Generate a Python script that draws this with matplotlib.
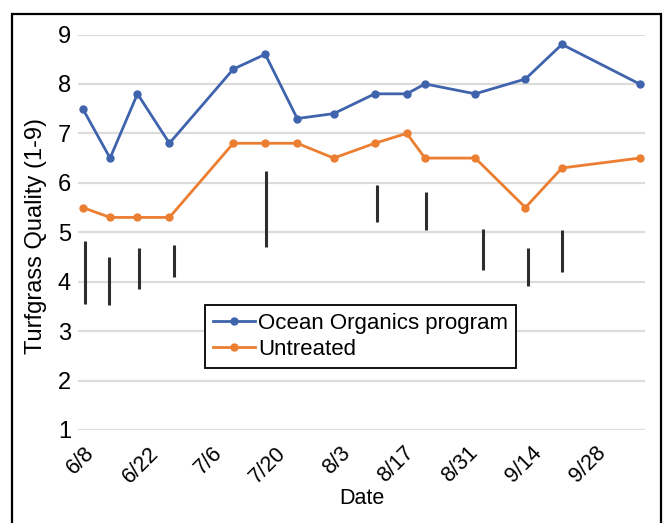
import matplotlib
matplotlib.use("Agg")
import matplotlib.pyplot as plt
import matplotlib.dates as mdates
import matplotlib.transforms as mtransforms
from matplotlib.patches import Rectangle
import pandas as pd

plt.rcParams['font.family'] = ['Liberation Sans', 'DejaVu Sans']

# ---- data ----
dates = ['2019-06-08', '2019-06-14', '2019-06-20', '2019-06-27', '2019-07-11',
         '2019-07-18', '2019-07-25', '2019-08-02', '2019-08-11', '2019-08-18',
         '2019-08-22', '2019-09-02', '2019-09-13', '2019-09-21', '2019-10-08']
ocean = [7.5, 6.5, 7.8, 6.8, 8.3, 8.6, 7.3, 7.4, 7.8, 7.8, 8.0, 7.8, 8.1, 8.8, 8.0]
untreated = [5.5, 5.3, 5.3, 5.3, 6.8, 6.8, 6.8, 6.5, 6.8, 7.0, 6.5, 6.5, 5.5, 6.3, 6.5]

bar_dates = ['2019-06-08 12:00', '2019-06-13 19:00', '2019-06-20 10:00', '2019-06-27 22:00',
             '2019-07-18 05:00', '2019-08-11 14:00', '2019-08-22 05:00', '2019-09-03 17:00',
             '2019-09-13 12:00', '2019-09-21 02:00']
bar_low = [3.55, 3.53, 3.85, 4.10, 4.71, 5.20, 5.05, 4.24, 3.92, 4.19]
bar_high = [4.83, 4.49, 4.69, 4.74, 6.23, 5.96, 5.81, 5.07, 4.69, 5.05]

tick_dates = ['2019-06-08', '2019-06-22', '2019-07-06', '2019-07-20', '2019-08-03',
              '2019-08-17', '2019-08-31', '2019-09-14', '2019-09-28']
tick_labels = ['6/8', '6/22', '7/6', '7/20', '8/3', '8/17', '8/31', '9/14', '9/28']
y_ticks = [1, 2, 3, 4, 5, 6, 7, 8, 9]

series_names = ['Ocean Organics program', 'Untreated']

# ---- figure ----
W, H = 668, 523
fig = plt.figure(figsize=(W / 100, H / 100), dpi=100)
fig.patch.set_facecolor('white')

ax_l, ax_r, ax_t, ax_b = 78, 645, 34.5, 430
ax = fig.add_axes([ax_l / W, 1 - ax_b / H, (ax_r - ax_l) / W, (ax_b - ax_t) / H])

x = pd.to_datetime(dates)
bx = pd.to_datetime(bar_dates)
tx = pd.to_datetime(tick_dates)

for v in y_ticks:
    ax.axhline(v, color='#dcdcdc', lw=1.6, zorder=0)

ax.vlines(bx, bar_low, bar_high, color='#2e2e2e', lw=2.2, zorder=2)

ax.plot(x, ocean, color='#3f64ad', lw=2.0, marker='o', ms=5, label=series_names[0], zorder=3)
ax.plot(x, untreated, color='#ec7e31', lw=2.0, marker='o', ms=5, label=series_names[1], zorder=3)

start = pd.Timestamp('2019-06-08')
ax.set_xlim(mdates.date2num(start - pd.Timedelta(days=1.03)),
            mdates.date2num(start + pd.Timedelta(days=123.2)))
ax.set_ylim(1, 9)

for s in ax.spines.values():
    s.set_visible(False)
ax.tick_params(length=0)
ax.set_yticks(y_ticks)
ax.set_yticklabels([str(v) for v in y_ticks], fontsize=17)
ax.tick_params(axis='y', pad=5)

ax.set_xticks(mdates.date2num(tx))
ax.set_xticklabels(tick_labels, fontsize=15.5, rotation=45, ha='right', va='top',
                   rotation_mode='anchor')
ax.tick_params(axis='x', pad=9)
offset = mtransforms.ScaledTranslation(1 / 72, 0, fig.dpi_scale_trans)
for lbl in ax.get_xticklabels():
    lbl.set_transform(lbl.get_transform() + offset)

ax.set_ylabel('Turfgrass Quality (1-9)', fontsize=17)
ax.yaxis.set_label_coords((36 - ax_l) / (ax_r - ax_l), (ax_b - 236) / (ax_b - ax_t))
ax.yaxis.label.set_va('center')
ax.set_xlabel('Date', fontsize=15.5)
ax.xaxis.set_label_coords(0.5, -(499 - ax_b) / (ax_b - ax_t))
ax.xaxis.label.set_va('center')

leg = ax.legend(loc='lower left',
                bbox_to_anchor=((205 - ax_l) / (ax_r - ax_l), (ax_b - 368) / (ax_b - ax_t)),
                borderaxespad=0, fontsize=16, frameon=True, fancybox=False,
                edgecolor='black', handlelength=1.9, handletextpad=0.15,
                labelspacing=0.25, borderpad=0.35)
leg.get_frame().set_linewidth(1.3)
leg.get_frame().set_alpha(1)

# outer frame
fig.add_artist(Rectangle((12 / W, -0.05), (661 - 12) / W, 1.05 - 14 / H,
                         transform=fig.transFigure, fill=False, ec='black', lw=1.6))

fig.savefig('out.png', dpi=100)
